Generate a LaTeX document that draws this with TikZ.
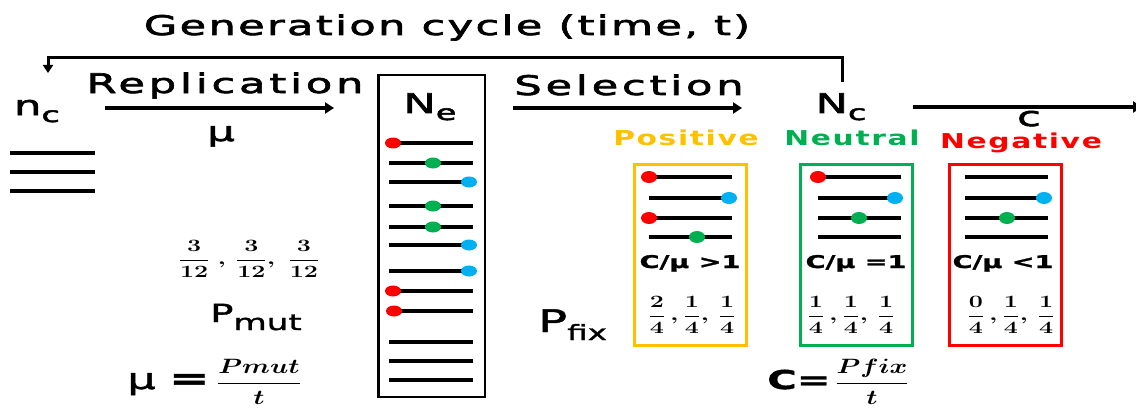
\documentclass[tikz,border=0pt]{standalone}
\usepackage{amsmath}
\usepackage{bm}
\usepackage{fontspec}
\newfontfamily\lblfont{DejaVu Sans}[FakeStretch=1.6, FakeBold=2.5, LetterSpace=14]
\newfontfamily\ttlfont{DejaVu Sans}[FakeStretch=1.6, FakeBold=2.5, LetterSpace=8.5]
\newfontfamily\catfont{DejaVu Sans}[FakeStretch=1.45, LetterSpace=8]
\newfontfamily\symfont{DejaVu Sans}[FakeStretch=1.55, FakeBold=1.5]
\newcommand{\widemath}[1]{\scalebox{1.45}[1]{#1}}
\newcommand{\lowsub}[1]{\raisebox{-7pt}{\fontsize{21}{21}\selectfont #1}}
\usetikzlibrary{arrows.meta}

\begin{document}
\begin{tikzpicture}[x=1pt, y=-1pt,
  lbl/.style={
    font=\lblfont\fontsize{27}{30}\selectfont,
    inner sep=0pt,
    anchor=base
  },
  cat/.style={
    font=\catfont\bfseries\fontsize{20.5}{24}\selectfont,
    inner sep=0pt,
    anchor=base
  },
  ratio/.style={
    font=\symfont\bfseries\fontsize{17.5}{20}\selectfont,
    inner sep=0pt,
    anchor=base
  },
  frac/.style={
    font=\fontsize{19}{22}\selectfont\boldmath,
    inner sep=0pt
  },
  eqn/.style={
    font=\symfont\fontsize{27}{30}\selectfont,
    inner sep=0pt,
    anchor=base west
  },
  strand/.style={line width=4pt},
  flow/.style={line width=4pt, -{Triangle[length=9pt,width=11pt]}},
  cycle/.style={line width=3pt, -{Triangle[length=8pt,width=10pt]}},
  pool/.style={draw, line width=2.5pt, minimum width=106.5pt, minimum height=321.5pt, inner sep=0pt},
  class/.style={line width=3pt, minimum width=112pt, minimum height=181pt, inner sep=0pt}
]

\definecolor{posCol}{RGB}{255,192,0}
\definecolor{neuCol}{RGB}{0,176,80}
\definecolor{negCol}{RGB}{255,0,0}
\definecolor{dotBlue}{RGB}{0,176,240}

\useasboundingbox (0,0) rectangle (1136,412);

\node[lbl, font=\ttlfont\fontsize{27}{30}\selectfont] (title) at (447,35) {Generation cycle (time, t)};

\node[lbl] (ncl) at (37,115) {n\lowsub{c}};
\foreach \y in {153,172,191}
  \draw[strand] (10,\y) -- (95,\y);

\node[lbl] (repl) at (225,93) {Replication};
\coordinate (replA) at (105,108);
\coordinate (replB) at (334,108);
\draw[flow] (replA) -- (replB);
\node[lbl] (mu) at (221,141) {μ};

\node[pool] (ne) at (431.5,236) {};
\node[lbl] (Ne) at (430,113) {N\lowsub{e}};
\foreach \y in {143,163,182,206,227,245,271,291,311,342,361,380}
  \draw[strand] (389,\y) -- (473,\y);
\fill[negCol] (393,143) ellipse (8 and 5.5);
\fill[neuCol] (433,163) ellipse (8 and 5.5);
\fill[dotBlue] (469,182) ellipse (8 and 5.5);
\fill[neuCol] (433,206) ellipse (8 and 5.5);
\fill[neuCol] (433,227) ellipse (8 and 5.5);
\fill[dotBlue] (469,245) ellipse (8 and 5.5);
\fill[dotBlue] (469,271) ellipse (8 and 5.5);
\fill[negCol] (393,291) ellipse (8 and 5.5);
\fill[negCol] (394,311) ellipse (8 and 5.5);

\node[lbl] (sel) at (629,95) {Selection};
\coordinate (selA) at (513,108);
\coordinate (selB) at (742,108);
\draw[flow] (selA) -- (selB);

\node[lbl] (Nc) at (841,113) {N\lowsub{c}};
\coordinate (cycR) at (842,82);
\coordinate (cycL) at (48,73);
\draw[cycle] (cycR) -- ++(0,-24) -| (cycL);

\coordinate (cA) at (913,107);
\coordinate (cB) at (1142,107);
\draw[flow] (cA) -- (cB);
\node[lbl] (cc) at (1029,126) {c};

\node[frac, font=\fontsize{16.5}{20}\selectfont\boldmath] (fmut) at (249,259)
  {\widemath{$\dfrac{3}{12}\;,\,\dfrac{3}{12},\;\dfrac{3}{12}$}};
\node[eqn] (pmut) at (210,322) {\fontsize{25}{28}\selectfont P\raisebox{-8pt}{\fontsize{22}{26}\selectfont mut}};
\node[eqn] (mueq) at (127,389)
  {{\fontsize{29}{30}\selectfont μ} {\bfseries\fontsize{31}{32}\selectfont =}\;\scalebox{1.3}[1]{\fontsize{21}{24}\selectfont$\boldsymbol{\dfrac{Pmut}{t}}$}};

\node[eqn] (pfix) at (538,332) {\fontsize{31}{34}\selectfont P\raisebox{-8pt}{\fontsize{21}{24}\selectfont fix}};

\node[cat, text=posCol] (pos) at (686,145) {Positive};
\node[cat, text=neuCol] (neu) at (852,145) {Neutral};
\node[cat, text=negCol] (neg) at (1021,148) {Negative};

\node[class, draw=posCol] (posbox) at (690.5,255) {};
\node[class, draw=neuCol] (neubox) at (856.5,255) {};
\node[class, draw=negCol] (negbox) at (1005,255) {};

\foreach \bx in {649,818,965}
  \foreach \y in {177,198,218,237}
    \draw[strand] (\bx,\y) -- ++(83,0);
\fill[negCol] (649,177) ellipse (8 and 6);
\fill[dotBlue] (729,198) ellipse (8 and 6);
\fill[negCol] (649,218) ellipse (8 and 6);
\fill[neuCol] (697,237) ellipse (8 and 6);
\fill[negCol] (818,177) ellipse (8 and 6);
\fill[dotBlue] (895,198) ellipse (8 and 6);
\fill[neuCol] (859,218) ellipse (8 and 6);
\fill[dotBlue] (1044,198) ellipse (8 and 6);
\fill[neuCol] (1007,218) ellipse (8 and 6);

\node[ratio] (rpos) at (690,268) {C/μ >1};
\node[ratio] (rneu) at (856,268) {C/μ =1};
\node[ratio] (rneg) at (1003,268) {C/μ <1};

\node[frac] (fpos) at (692,315) {\widemath{$\dfrac{2}{4}\,,\dfrac{1}{4},\,\dfrac{1}{4}$}};
\node[frac] (fneu) at (851,315) {\widemath{$\dfrac{1}{4}\,,\dfrac{1}{4},\,\dfrac{1}{4}$}};
\node[frac] (fneg) at (1011,315) {\widemath{$\dfrac{0}{4}\,,\dfrac{1}{4},\,\dfrac{1}{4}$}};

\node[eqn] (ceq) at (767,389)
  {{\bfseries\fontsize{26}{30}\selectfont C=}\,\scalebox{1.3}[1]{\fontsize{21.5}{24}\selectfont$\boldsymbol{\dfrac{Pfix}{t}}$}};

\end{tikzpicture}
\end{document}
